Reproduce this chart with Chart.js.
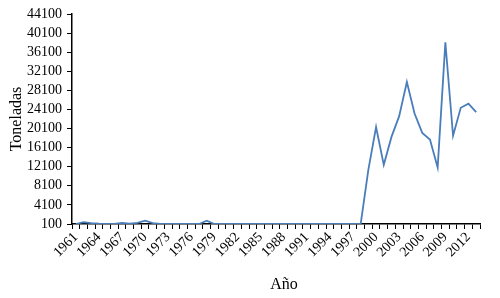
<!DOCTYPE html>
<html>
<head>
<meta charset="utf-8">
<script src="https://cdn.jsdelivr.net/npm/chart.js@4"></script>
<style>
  html, body { margin: 0; padding: 0; background: #fff; }
  #wrap { width: 500px; height: 298px; }
</style>
</head>
<body>
<div id="wrap"><canvas id="chart"></canvas></div>
<script>
// years 1961..2013
var years = [
  1961, 1962, 1963, 1964, 1965, 1966, 1967, 1968, 1969, 1970,
  1971, 1972, 1973, 1974, 1975, 1976, 1977, 1978, 1979, 1980,
  1981, 1982, 1983, 1984, 1985, 1986, 1987, 1988, 1989, 1990,
  1991, 1992, 1993, 1994, 1995, 1996, 1997, 1998, 1999, 2000,
  2001, 2002, 2003, 2004, 2005, 2006, 2007, 2008, 2009, 2010,
  2011, 2012, 2013
];
var toneladas = [
  100, 500, 300, 150, 100, 100, 350, 200, 350, 800,
  300, 100, 100, 100, 100, 100, 100, 800, 100, 100,
  100, 100, 100, 100, 100, 100, 100, 100, 100, 100,
  100, 100, 100, 100, 100, 100, 100, 100, 11500, 20400,
  12500, 18350, 22700, 29850, 23250, 19200, 17800, 11950, 38150, 18600,
  24450, 25300, 23550
];
var yTicks = [100, 4100, 8100, 12100, 16100, 20100, 24100, 28100, 32100, 36100, 40100, 44100];

Chart.defaults.font.family = 'Liberation Serif';
Chart.defaults.color = '#000';

document.addEventListener("DOMContentLoaded", function () {
    var ctx = document.getElementById('chart').getContext('2d');
    new Chart(ctx, {
        type: 'line',
        data: {
            labels: years,
            datasets: [{
                label: 'Toneladas',
                data: toneladas,
                borderColor: '#4a7ebb',
                borderWidth: 1.8,
                pointRadius: 0,
                tension: 0,
                fill: false
            }]
        },
        options: {
            responsive: true,
            maintainAspectRatio: false,
            animation: false,
            layout: { padding: { top: 14, right: 20, left: 7, bottom: 4 } },
            plugins: {
                legend: { display: false },
                tooltip: { enabled: false }
            },
            scales: {
                x: {
                    type: 'category',
                    offset: true,
                    grid: {
                        offset: true,
                        drawOnChartArea: false,
                        color: '#000',
                        tickLength: 5
                    },
                    border: { color: '#000', width: 1.5 },
                    ticks: {
                        autoSkip: false,
                        maxRotation: 45,
                        minRotation: 45,
                        padding: 0,
                        font: { size: 14 },
                        callback: function (v, i) {
                            return i % 3 === 0 ? String(years[i]) : '';
                        }
                    },
                    title: {
                        display: true,
                        text: '\u00a0\u00a0\u00a0\u00a0Año',
                        font: { size: 16 },
                        padding: { top: 10, bottom: 0 }
                    },
                    afterFit: function (scale) { scale.height = 70; }
                },
                y: {
                    min: 100,
                    max: 44100,
                    afterBuildTicks: function (scale) {
                        scale.ticks = yTicks.map(function (v) { return { value: v }; });
                    },
                    grid: {
                        drawOnChartArea: false,
                        color: '#000',
                        tickLength: 5
                    },
                    border: { color: '#000', width: 1.5 },
                    ticks: {
                        autoSkip: false,
                        padding: 5,
                        font: { size: 14 },
                        callback: function (v) { return String(v); }
                    },
                    title: {
                        display: true,
                        text: 'Toneladas',
                        font: { size: 16 },
                        padding: { top: 0, bottom: 0 }
                    },
                    afterFit: function (scale) { scale.width = 65; }
                }
            }
        }
    });
});
</script>
</body>
</html>
